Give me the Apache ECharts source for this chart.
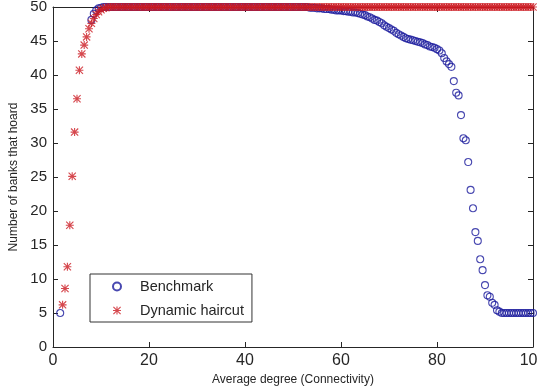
<!DOCTYPE html>
<html>
<head>
<meta charset="utf-8">
<script src="https://cdn.jsdelivr.net/npm/echarts@6/dist/echarts.min.js"></script>
<style>
  html, body { margin: 0; padding: 0; background: #fff; }
  #chart { width: 538px; height: 391px; }
</style>
</head>
<body>
<div id="chart"></div>
<script>
// average degree (x) shared by both series
const degree = [
  1.5, 2, 2.5, 3, 3.5, 4, 4.5, 5, 5.5, 6, 6.5, 7, 7.5, 8, 8.5, 9, 9.5, 10, 10.5, 11,
  11.5, 12, 12.5, 13, 13.5, 14, 14.5, 15, 15.5, 16, 16.5, 17, 17.5, 18, 18.5, 19, 19.5, 20, 20.5, 21,
  21.5, 22, 22.5, 23, 23.5, 24, 24.5, 25, 25.5, 26, 26.5, 27, 27.5, 28, 28.5, 29, 29.5, 30, 30.5, 31,
  31.5, 32, 32.5, 33, 33.5, 34, 34.5, 35, 35.5, 36, 36.5, 37, 37.5, 38, 38.5, 39, 39.5, 40, 40.5, 41,
  41.5, 42, 42.5, 43, 43.5, 44, 44.5, 45, 45.5, 46, 46.5, 47, 47.5, 48, 48.5, 49, 49.5, 50, 50.5, 51,
  51.5, 52, 52.5, 53, 53.5, 54, 54.5, 55, 55.5, 56, 56.5, 57, 57.5, 58, 58.5, 59, 59.5, 60, 60.5, 61,
  61.5, 62, 62.5, 63, 63.5, 64, 64.5, 65, 65.5, 66, 66.5, 67, 67.5, 68, 68.5, 69, 69.5, 70, 70.5, 71,
  71.5, 72, 72.5, 73, 73.5, 74, 74.5, 75, 75.5, 76, 76.5, 77, 77.5, 78, 78.5, 79, 79.5, 80, 80.5, 81,
  81.5, 82, 82.5, 83, 83.5, 84, 84.5, 85, 85.5, 86, 86.5, 87, 87.5, 88, 88.5, 89, 89.5, 90, 90.5, 91,
  91.5, 92, 92.5, 93, 93.5, 94, 94.5, 95, 95.5, 96, 96.5, 97, 97.5, 98, 98.5, 99, 99.5, 100
];

const benchmark = [
  5, null, null, null, null, null, null, null, null, null, null, null, null, 48.1, 49.0, 49.5, 49.8, 49.9, 50, 50,
  50, 50, 50, 50, 50, 50, 50, 50, 50, 50, 50, 50, 50, 50, 50, 50, 50, 50, 50, 50,
  50, 50, 50, 50, 50, 50, 50, 50, 50, 50, 50, 50, 50, 50, 50, 50, 50, 50, 50, 50,
  50, 50, 50, 50, 50, 50, 50, 50, 50, 50, 50, 50, 50, 50, 50, 50, 50, 50, 50, 50,
  50, 50, 50, 50, 50, 50, 50, 50, 50, 50, 50, 50, 50, 50, 50, 50, 50, 50, 50, 50,
  50, 50, 50, 50, 49.9, 49.9, 49.9, 49.8, 49.8, 49.8, 49.7, 49.7, 49.7, 49.6, 49.6, 49.5, 49.5, 49.5, 49.4, 49.4,
  49.3, 49.3, 49.2, 49.2, 49.1, 49.0, 48.9, 48.8, 48.6, 48.5, 48.3, 48.1, 48.0, 47.8, 47.6, 47.3, 47.1, 46.9, 46.7, 46.5,
  46.2, 46.0, 45.8, 45.6, 45.4, 45.3, 45.2, 45.1, 45.0, 44.9, 44.8, 44.7, 44.5, 44.4, 44.2, 44.1, 44.0, 43.8, 43.6, 43.2,
  42.5, 42.0, 41.6, 41.2, 39.1, 37.4, 37.0, 34.1, 30.7, 30.4, 27.2, 23.1, 20.4, 16.9, 15.6, 12.9, 11.3, 9.1, 7.6, 7.4,
  6.5, 6.2, 5.4, 5.2, 5, 5, 5, 5, 5, 5, 5, 5, 5, 5, 5, 5, 5, 5
];

const dynamicHaircut = [
  null, 6.2, 8.6, 11.8, 17.9, 25.1, 31.6, 36.5, 40.7, 43.1, 44.4, 45.6, 46.8, 47.6, 48.3, 48.9, 49.3, 49.6, 49.8, 49.9,
  50, 50, 50, 50, 50, 50, 50, 50, 50, 50, 50, 50, 50, 50, 50, 50, 50, 50, 50, 50,
  50, 50, 50, 50, 50, 50, 50, 50, 50, 50, 50, 50, 50, 50, 50, 50, 50, 50, 50, 50,
  50, 50, 50, 50, 50, 50, 50, 50, 50, 50, 50, 50, 50, 50, 50, 50, 50, 50, 50, 50,
  50, 50, 50, 50, 50, 50, 50, 50, 50, 50, 50, 50, 50, 50, 50, 50, 50, 50, 50, 50,
  50, 50, 50, 50, 50, 50, 50, 50, 50, 50, 50, 50, 50, 50, 50, 50, 50, 50, 50, 50,
  50, 50, 50, 50, 50, 50, 50, 50, 50, 50, 50, 50, 50, 50, 50, 50, 50, 50, 50, 50,
  50, 50, 50, 50, 50, 50, 50, 50, 50, 50, 50, 50, 50, 50, 50, 50, 50, 50, 50, 50,
  50, 50, 50, 50, 50, 50, 50, 50, 50, 50, 50, 50, 50, 50, 50, 50, 50, 50, 50, 50,
  50, 50, 50, 50, 50, 50, 50, 50, 50, 50, 50, 50, 50, 50, 50, 50, 50, 50
];

const toPoints = (vals) => degree.map((x, i) => [x, vals[i]]).filter((p) => p[1] !== null);

// matlab style '*' marker
const asterisk = 'path://M4.3 0H5.7V10H4.3Z M0 4.3H10V5.7H0Z M0 1L1 0L10 9L9 10Z M9 0L10 1L1 10L0 9Z';

const font = "'Liberation Sans', Arial, sans-serif";
const textColor = '#262626';
const lineColor = '#262626';

const xBase = {
  type: 'value', min: 0, max: 100, interval: 20,
  axisLine: { show: true, onZero: false, lineStyle: { color: lineColor } },
  axisTick: { show: true, inside: true, length: 5, lineStyle: { color: lineColor } },
  splitLine: { show: false }
};
const yBase = {
  type: 'value', min: 0, max: 50, interval: 5,
  axisLine: { show: true, onZero: false, lineStyle: { color: lineColor } },
  axisTick: { show: true, inside: true, length: 5, lineStyle: { color: lineColor } },
  splitLine: { show: false }
};

const option = {
  animation: false,
  backgroundColor: '#fff',
  grid: { left: 53, right: 5, top: 7, bottom: 44, containLabel: false, outerBoundsMode: 'none' },
  legend: {
    orient: 'vertical',
    left: 90,
    top: 274,
    backgroundColor: '#fff',
    borderColor: '#333',
    borderWidth: 1,
    borderRadius: 0,
    padding: [5, 8, 4, 22],
    itemWidth: 36,
    itemHeight: 8,
    itemGap: 9,
    textStyle: { fontFamily: font, fontSize: 14.5, color: textColor, lineHeight: 14 },
    data: ['Benchmark', 'Dynamic haircut']
  },
  xAxis: [
    Object.assign({}, xBase, {
      position: 'bottom',
      name: 'Average degree (Connectivity)',
      nameLocation: 'middle',
      nameGap: 25,
      nameTextStyle: { fontFamily: font, fontSize: 12, color: textColor },
      axisLabel: { fontFamily: font, fontSize: 16, color: textColor, margin: 6 }
    }),
    Object.assign({}, xBase, { position: 'top', axisLabel: { show: false } })
  ],
  yAxis: [
    Object.assign({}, yBase, {
      position: 'left',
      name: 'Number of banks that hoard',
      nameLocation: 'middle',
      nameGap: 28,
      nameTextStyle: { fontFamily: font, fontSize: 12, color: textColor },
      axisLabel: { fontFamily: font, fontSize: 15, color: textColor, margin: 6 }
    }),
    Object.assign({}, yBase, { position: 'right', axisLabel: { show: false } })
  ],
  series: [
    {
      name: 'Benchmark',
      type: 'scatter',
      symbol: 'circle',
      symbolSize: 7,
      clip: false,
      itemStyle: { color: 'rgba(0,0,0,0)', borderColor: '#1a1a9c', borderWidth: 1.1 },
      data: toPoints(benchmark)
    },
    {
      name: 'Dynamic haircut',
      type: 'scatter',
      symbol: asterisk,
      symbolSize: 8,
      clip: false,
      itemStyle: { color: '#cc1a22' },
      data: toPoints(dynamicHaircut)
    }
  ]
};

const myChart = echarts.init(document.getElementById('chart'), null, { renderer: 'canvas' });
myChart.setOption(option);
</script>
</body>
</html>
